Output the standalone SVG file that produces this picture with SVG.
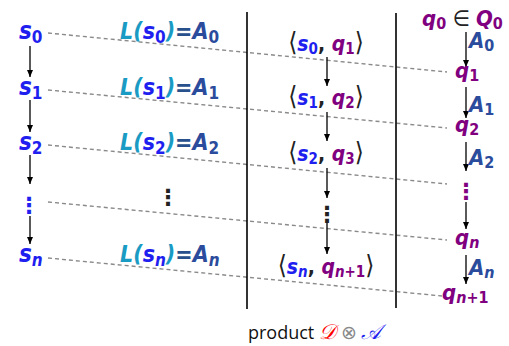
<svg xmlns="http://www.w3.org/2000/svg" width="509" height="346" viewBox="0 0 509 346">
<style>
  .m { font-family: "DejaVu Sans Condensed", "DejaVu Sans", sans-serif; font-weight: bold; font-style: italic; }
  .s { fill: #1f1fef; }
  .L { fill: #1a9bc4; }
  .eq { fill: #27508c; }
  .A { fill: #2b4c9c; }
  .q { fill: #800080; }
  .k { fill: #222; }
  .up { font-style: normal; }
  .big { font-size: 24px; }
  .lab { font-size: 23px; }
  .mid { font-size: 21px; }
  .br { font-size: 26px; font-style: normal; font-weight: normal; }
  .rt { font-size: 22px; }
  .dash { stroke: #8a8a8a; stroke-width: 1.4; stroke-dasharray: 4 3; fill: none; }
  .arr { stroke: #000; stroke-width: 1.3; fill: none; marker-end: url(#ah); }
  .vl { stroke: #000; stroke-width: 1.6; }
  .dots { font-family: "DejaVu Sans", sans-serif; font-style: normal; font-weight: bold; font-size: 22px; }
  .cap { font-family: "Open Sans", "Liberation Sans", sans-serif; font-size: 18px; font-weight: normal; font-style: normal; fill: #111; }
  .cal { font-family: "DejaVu Serif", serif; font-style: italic; font-size: 21px; }
</style>
<defs>
  <marker id="ah" markerUnits="userSpaceOnUse" markerWidth="8" markerHeight="8" viewBox="0 0 8 8" refX="7" refY="4" orient="auto">
    <path d="M0,1 L7,4 L0,7 Z" fill="#000"/>
  </marker>
</defs>

<g id="connectors">
  <line class="dash" x1="48" y1="33" x2="447" y2="72"/>
  <line class="dash" x1="48" y1="90" x2="447" y2="128"/>
  <line class="dash" x1="48" y1="145" x2="447" y2="184"/>
  <line class="dash" x1="48" y1="202" x2="447" y2="240"/>
  <line class="dash" x1="48" y1="258" x2="442" y2="296"/>
  <line class="vl" x1="247" y1="12" x2="247" y2="309"/>
  <line class="vl" x1="396" y1="13" x2="396" y2="308"/>
  <line class="arr" x1="30" y1="46" x2="30" y2="77"/>
  <line class="arr" x1="30" y1="100" x2="30" y2="132"/>
  <line class="arr" x1="30" y1="155" x2="30" y2="184"/>
  <line class="arr" x1="30" y1="216" x2="30" y2="244"/>
  <line class="arr" x1="327" y1="57" x2="327" y2="86"/>
  <line class="arr" x1="327" y1="112" x2="327" y2="141"/>
  <line class="arr" x1="327" y1="168" x2="327" y2="198"/>
  <line class="arr" x1="327" y1="222" x2="327" y2="254"/>
  <line class="arr" x1="466" y1="32" x2="466" y2="67"/>
  <line class="arr" x1="466" y1="87" x2="466" y2="118"/>
  <line class="arr" x1="466" y1="142" x2="466" y2="171"/>
  <line class="arr" x1="466" y1="202" x2="466" y2="229"/>
  <line class="arr" x1="466" y1="255" x2="466" y2="284"/>
</g>

<g id="path-states">
  <g id="s0"><text class="m big s" x="19" y="39">s<tspan class="up" font-size="17" dy="4">0</tspan></text></g>
  <g id="s1"><text class="m big s" x="19" y="95">s<tspan class="up" font-size="17" dy="4">1</tspan></text></g>
  <g id="s2"><text class="m big s" x="19" y="150">s<tspan class="up" font-size="17" dy="4">2</tspan></text></g>
  <g id="sdots"><text class="dots s" x="29" y="213" text-anchor="middle">⋮</text></g>
  <g id="sn"><text class="m big s" x="19" y="262">s<tspan font-size="17" dy="4">n</tspan></text></g>
</g>

<g id="labels">
  <g id="L0"><text class="m lab" x="120" y="39"><tspan class="L">L(</tspan><tspan class="s">s</tspan><tspan class="s up" font-size="17" dy="4">0</tspan><tspan class="L" dy="-4">)</tspan><tspan class="eq up">=</tspan><tspan class="A">A</tspan><tspan class="A up" font-size="17" dy="4">0</tspan></text></g>
  <g id="L1"><text class="m lab" x="120" y="95"><tspan class="L">L(</tspan><tspan class="s">s</tspan><tspan class="s up" font-size="17" dy="4">1</tspan><tspan class="L" dy="-4">)</tspan><tspan class="eq up">=</tspan><tspan class="A">A</tspan><tspan class="A up" font-size="17" dy="4">1</tspan></text></g>
  <g id="L2"><text class="m lab" x="120" y="150"><tspan class="L">L(</tspan><tspan class="s">s</tspan><tspan class="s up" font-size="17" dy="4">2</tspan><tspan class="L" dy="-4">)</tspan><tspan class="eq up">=</tspan><tspan class="A">A</tspan><tspan class="A up" font-size="17" dy="4">2</tspan></text></g>
  <g id="Ldots"><text class="dots k" x="168" y="205" text-anchor="middle">⋮</text></g>
  <g id="Ln"><text class="m lab" x="120" y="262"><tspan class="L">L(</tspan><tspan class="s">s</tspan><tspan class="s" font-size="17" dy="4">n</tspan><tspan class="L" dy="-4">)</tspan><tspan class="eq up">=</tspan><tspan class="A">A</tspan><tspan class="A" font-size="17" dy="4">n</tspan></text></g>
</g>

<g id="product-states">
  <g id="p0"><text class="m mid k" x="326" y="51" text-anchor="middle"><tspan class="br">⟨</tspan><tspan class="s">s</tspan><tspan class="s up" font-size="15" dy="3">0</tspan><tspan class="up" dy="-3">, </tspan><tspan class="q">q</tspan><tspan class="q up" font-size="15" dy="3">1</tspan><tspan class="br" dy="-3">⟩</tspan></text></g>
  <g id="p1"><text class="m mid k" x="326" y="105" text-anchor="middle"><tspan class="br">⟨</tspan><tspan class="s">s</tspan><tspan class="s up" font-size="15" dy="3">1</tspan><tspan class="up" dy="-3">, </tspan><tspan class="q">q</tspan><tspan class="q up" font-size="15" dy="3">2</tspan><tspan class="br" dy="-3">⟩</tspan></text></g>
  <g id="p2"><text class="m mid k" x="326" y="161" text-anchor="middle"><tspan class="br">⟨</tspan><tspan class="s">s</tspan><tspan class="s up" font-size="15" dy="3">2</tspan><tspan class="up" dy="-3">, </tspan><tspan class="q">q</tspan><tspan class="q up" font-size="15" dy="3">3</tspan><tspan class="br" dy="-3">⟩</tspan></text></g>
  <g id="pdots"><text class="dots k" x="327" y="222" text-anchor="middle">⋮</text></g>
  <g id="pn"><text class="m mid k" x="326" y="274" text-anchor="middle"><tspan class="br">⟨</tspan><tspan class="s">s</tspan><tspan class="s" font-size="15" dy="3">n</tspan><tspan class="up" dy="-3">, </tspan><tspan class="q">q</tspan><tspan class="q" font-size="15" dy="3">n</tspan><tspan class="q up" font-size="15">+1</tspan><tspan class="br" dy="-3">⟩</tspan></text></g>
</g>

<g id="automaton">
  <g id="q0"><text class="m rt" x="422" y="26"><tspan class="q">q</tspan><tspan class="q up" font-size="16" dy="3">0</tspan><tspan class="k up" font-weight="normal" dy="-3"> ∈ </tspan><tspan class="q">Q</tspan><tspan class="q up" font-size="16" dy="3">0</tspan></text></g>
  <g id="a0"><text class="m rt A" x="469" y="48">A<tspan class="up" font-size="16" dy="3">0</tspan></text></g>
  <g id="q1"><text class="m rt q" x="455" y="78">q<tspan class="up" font-size="16" dy="3">1</tspan></text></g>
  <g id="a1"><text class="m rt A" x="469" y="112">A<tspan class="up" font-size="16" dy="3">1</tspan></text></g>
  <g id="q2"><text class="m rt q" x="455" y="132">q<tspan class="up" font-size="16" dy="3">2</tspan></text></g>
  <g id="a2"><text class="m rt A" x="469" y="165">A<tspan class="up" font-size="16" dy="3">2</tspan></text></g>
  <g id="qdots"><text class="dots q" x="466" y="199" text-anchor="middle">⋮</text></g>
  <g id="qn"><text class="m rt q" x="455" y="245">q<tspan font-size="16" dy="3">n</tspan></text></g>
  <g id="an"><text class="m rt A" x="469" y="275">A<tspan font-size="16" dy="3">n</tspan></text></g>
  <g id="qn1"><text class="m rt q" x="442" y="300">q<tspan font-size="16" dy="3">n</tspan><tspan class="up" font-size="16">+1</tspan></text></g>
</g>

<g id="caption">
  <text class="cap" x="248" y="339">product <tspan class="cal" fill="#ff0000">𝒟</tspan> <tspan fill="#888" font-size="19">⊗</tspan> <tspan class="cal" fill="#1f1fef">𝒜</tspan></text>
</g>
</svg>
